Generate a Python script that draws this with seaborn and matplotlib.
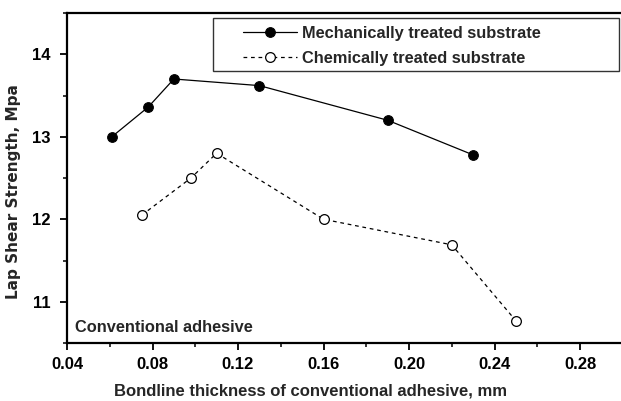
import matplotlib
matplotlib.use("Agg")
import matplotlib.pyplot as plt
from matplotlib.ticker import MultipleLocator, FormatStrFormatter
from matplotlib.patches import Rectangle
import seaborn as sns
import pandas as pd

# ---- data ----
mech_x = [0.061, 0.078, 0.090, 0.130, 0.190, 0.230]
mech_y = [13.00, 13.36, 13.70, 13.62, 13.20, 12.78]
chem_x = [0.075, 0.098, 0.110, 0.160, 0.220, 0.250]
chem_y = [12.05, 12.50, 12.80, 12.00, 11.69, 10.77]
series_labels = ["Mechanically treated substrate", "Chemically treated substrate"]
x_label = "Bondline thickness of conventional adhesive, mm"
y_label = "Lap Shear Strength, Mpa"
note = "Conventional adhesive"

sns.set_theme(style="ticks")
plt.rcParams['font.family'] = ['Liberation Sans', 'DejaVu Sans']
plt.rcParams['font.weight'] = 'bold'

W, H = 621, 401
fig = plt.figure(figsize=(W / 100, H / 100), dpi=100)
ax = fig.add_axes([67 / W, 1 - 343 / H, (622.75 - 67) / W, (343 - 13) / H])

mech = pd.DataFrame({"x": mech_x, "y": mech_y})
chem = pd.DataFrame({"x": chem_x, "y": chem_y})

sns.lineplot(data=mech, x="x", y="y", ax=ax, color="black", linewidth=0.9,
             marker="o", markersize=7, markerfacecolor="black",
             markeredgecolor="black", label=series_labels[0])
sns.lineplot(data=chem, x="x", y="y", ax=ax, color="black", linewidth=0.9,
             linestyle=(0, (3, 3)), marker="o", markersize=7,
             markerfacecolor="white", markeredgecolor="black",
             markeredgewidth=0.9, label=series_labels[1])

ax.set_xlim(0.04, 0.30)
ax.set_ylim(10.5, 14.5)
ax.xaxis.set_major_locator(MultipleLocator(0.04))
ax.xaxis.set_minor_locator(MultipleLocator(0.02))
ax.yaxis.set_major_locator(MultipleLocator(1))
ax.yaxis.set_minor_locator(MultipleLocator(0.5))
ax.xaxis.set_major_formatter(FormatStrFormatter("%.2f"))
ax.yaxis.set_major_formatter(FormatStrFormatter("%d"))

for s in ["left", "bottom", "top", "right"]:
    ax.spines[s].set_visible(True)
    ax.spines[s].set_color("black")
    ax.spines[s].set_linewidth(1.6)

ax.tick_params(which="major", direction="out", length=5, width=1.3,
               colors="black", labelsize=12)
ax.tick_params(which="minor", direction="out", length=3, width=1.1,
               colors="black")
ax.tick_params(axis="x", which="major", pad=5)
ax.tick_params(axis="y", which="major", pad=7)
for lab in ax.get_xticklabels() + ax.get_yticklabels():
    lab.set_fontweight("bold")

ax.set_xlabel("")
ax.set_ylabel("")
fig.text(310 / W, 1 - 391 / H, x_label, ha="center", va="center",
         fontsize=12, fontweight="bold")
fig.text(14 / W, 1 - 192 / H, y_label, ha="center", va="center",
         rotation=90, fontsize=11, fontweight="bold", family="DejaVu Sans")
ax.text(75 / W, 1 - 327 / H, note, transform=fig.transFigure, ha="left",
        va="center", fontsize=11.8, fontweight="bold")

# legend frame drawn separately to match the reference box
fig.patches.append(Rectangle((213 / W, 1 - 71 / H), (619 - 213) / W, (71 - 18) / H,
                             transform=fig.transFigure, fill=False,
                             edgecolor="#333333", linewidth=1.0, zorder=5))
leg = ax.legend(loc="upper left",
                bbox_to_anchor=(243 / W, 1 - 26 / H),
                bbox_transform=fig.transFigure,
                borderaxespad=0, borderpad=0, frameon=False,
                prop={"size": 11.8, "weight": "bold"},
                handlelength=3.3, handletextpad=0.3,
                labelspacing=0.6)

fig.savefig("out.png", dpi=100, facecolor="white")
